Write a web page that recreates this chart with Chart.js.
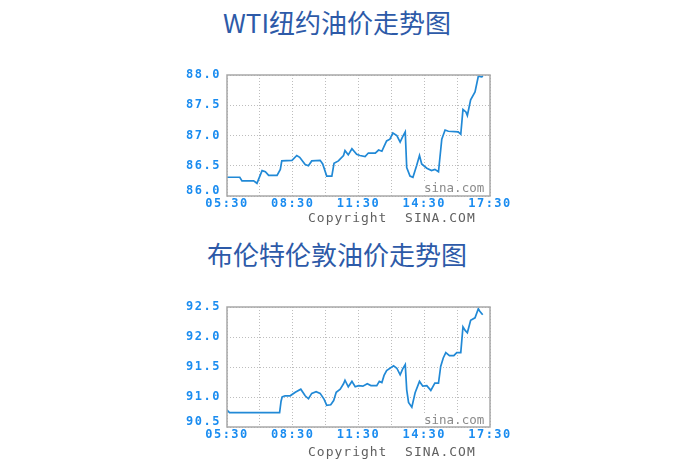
<!DOCTYPE html>
<html>
<head>
<meta charset="utf-8">
<script src="https://cdn.jsdelivr.net/npm/chart.js@4/dist/chart.umd.min.js"></script>
<style>
  html, body { margin: 0; padding: 0; background: #fff; }
  #page { position: relative; width: 685px; height: 465px; overflow: hidden; }
  .title { position: absolute; left: 0; width: 674px; text-align: center; font-family: "Noto Sans CJK SC", "Noto Sans", sans-serif; font-size: 26px; line-height: 30px; color: #2d5aa8; }
  .copy { position: absolute; left: 308px; font-family: "DejaVu Sans Mono", monospace; font-size: 13px; letter-spacing: 1px; line-height: 14px; color: #606060; white-space: pre; }
  .mark { position: absolute; left: 423px; font-family: "DejaVu Sans Mono", monospace; font-size: 12.5px; line-height: 12px; color: #8a8a8a; background: #fff; padding: 0 1px; }
  canvas { position: absolute; left: 0; }
</style>
</head>
<body>
<div id="page">
  <div class="title" style="top:7px">WTI纽约油价走势图</div>
  <canvas id="wtiChart" width="685" height="232" style="top:0"></canvas>
  <div class="mark" style="top:182px">sina.com</div>
  <div class="copy" style="top:211px">Copyright  SINA.COM</div>

  <div class="title" style="top:239px">布伦特伦敦油价走势图</div>
  <canvas id="brentChart" width="685" height="233" style="top:232px"></canvas>
  <div class="mark" style="top:414px">sina.com</div>
  <div class="copy" style="top:445px">Copyright  SINA.COM</div>
</div>
<script>
const timeLabels = ['05:30', '08:30', '11:30', '14:30', '17:30'];

const wtiTimes = ['05:30','06:05','06:11','06:43','06:52','07:06','07:15','07:24','07:47','07:56',
    '08:00','08:28','08:41','08:49','09:04','09:13','09:22','09:45','09:52','10:03',
    '10:17','10:23','10:35','10:49','10:53','11:02','11:12','11:25','11:34','11:48',
    '11:57','12:16','12:25','12:34','12:40','12:47','12:56','13:04','13:15','13:24',
    '13:31','13:38','13:42','13:51','13:59','14:09','14:17','14:23','14:37','14:50',
    '14:59','15:09','15:13','15:18','15:27','15:36','16:03','16:10','16:16','16:24',
    '16:28','16:37','16:49','16:58','17:07','17:11'];
const wtiPrices = [86.31,86.31,86.25,86.25,86.21,86.42,86.40,86.34,86.34,86.44,
    86.58,86.59,86.67,86.64,86.52,86.50,86.58,86.59,86.53,86.33,
    86.33,86.54,86.58,86.67,86.75,86.68,86.78,86.69,86.67,86.65,
    86.71,86.71,86.76,86.74,86.82,86.91,86.94,87.04,87.00,86.89,
    86.98,87.06,86.47,86.33,86.31,86.50,86.67,86.53,86.46,86.42,
    86.44,86.40,86.64,86.94,87.09,87.07,87.06,87.02,87.43,87.39,
    87.33,87.59,87.72,87.98,87.97,87.98];
const wtiRange = [86.0, 88.0];

const brentTimes = ['05:30','05:37','07:54','07:58','08:01','08:09','08:23','08:37','08:52','09:04',
    '09:13','09:22','09:34','09:45','09:56','10:03','10:14','10:22','10:29','10:40',
    '10:49','10:53','11:02','11:12','11:21','11:30','11:42','11:54','12:04','12:20',
    '12:27','12:34','12:40','12:47','13:06','13:15','13:24','13:31','13:38','13:42',
    '13:47','13:56','14:05','14:17','14:26','14:37','14:48','14:59','15:09','15:15',
    '15:22','15:29','15:39','15:51','15:59','16:10','16:16','16:22','16:28','16:37',
    '16:49','16:58','17:02','17:10'];
const brentPrices = [90.78,90.74,90.74,90.93,91.00,91.02,91.02,91.08,91.13,91.02,
    90.97,91.06,91.09,91.06,90.96,90.86,90.87,90.94,91.08,91.13,
    91.22,91.28,91.17,91.26,91.17,91.19,91.18,91.22,91.19,91.19,
    91.26,91.24,91.36,91.44,91.52,91.48,91.37,91.47,91.54,91.12,
    90.91,90.83,91.07,91.26,91.18,91.19,91.11,91.23,91.23,91.51,
    91.65,91.74,91.69,91.69,91.74,91.74,92.17,92.11,92.07,92.28,
    92.32,92.47,92.43,92.37];
const brentRange = [90.5, 92.5];

function toMin(s) {
    const [h, m] = s.split(':').map(Number);
    return h * 60 + m - 330;
}

const axisFont = { family: 'DejaVu Sans Mono', size: 12, weight: 'bold', lineHeight: 0.85 };
const tickColor = '#1a8cf0';

// frame round the plot + wider letters for the axis text
const framePlugin = {
    id: 'frame',
    beforeDraw(chart) {
        chart.ctx.letterSpacing = '1.5px';
    },
    afterDraw(chart) {
        const a = chart.chartArea;
        const ctx = chart.ctx;
        ctx.save();
        ctx.strokeStyle = '#a8a8a8';
        ctx.lineWidth = 1.5;
        ctx.strokeRect(a.left, a.top, a.right - a.left, a.bottom - a.top);
        ctx.restore();
    }
};

function makeChart(id, times, prices, range, bottomH) {
    const ctx = document.getElementById(id).getContext('2d');
    const points = times.map((t, i) => ({ x: toMin(t), y: prices[i] }));
    const yTicks = [];
    for (let v = range[0]; v <= range[1] + 1e-9; v += 0.5) yTicks.push({ value: v });
    return new Chart(ctx, {
        type: 'line',
        data: {
            datasets: [{
                data: points,
                borderColor: '#2189d6',
                borderWidth: 1.7,
                pointRadius: 0,
                tension: 0,
                fill: false
            }]
        },
        options: {
            responsive: false,
            animation: false,
            layout: { padding: { left: 0, right: 195, top: 75, bottom: 0 } },
            plugins: {
                legend: { display: false },
                tooltip: { enabled: false },
                title: { display: false }
            },
            scales: {
                x: {
                    type: 'linear',
                    min: 0,
                    max: 720,
                    afterBuildTicks: axis => {
                        axis.ticks = [0, 90, 180, 270, 360, 450, 540, 630, 720].map(v => ({ value: v }));
                    },
                    afterFit: axis => { axis.height = bottomH; },
                    ticks: {
                        autoSkip: false,
                        maxRotation: 0,
                        padding: 3,
                        color: tickColor,
                        font: axisFont,
                        callback: v => (v % 180 === 0 ? timeLabels[v / 180] : '')
                    },
                    grid: { color: '#bdbdbd', lineWidth: 1, drawTicks: false },
                    border: { display: false, dash: [1, 2] }
                },
                y: {
                    min: range[0],
                    max: range[1],
                    afterBuildTicks: axis => { axis.ticks = yTicks.slice(); },
                    afterFit: axis => { axis.width = 227; },
                    ticks: {
                        padding: 6,
                        color: tickColor,
                        font: axisFont,
                        // lowest label sits a little higher, clear of the time labels
                        callback: v => (v === range[0] ? [Number(v).toFixed(1), ''] : Number(v).toFixed(1))
                    },
                    grid: { color: '#bdbdbd', lineWidth: 1, drawTicks: false },
                    border: { display: false, dash: [1, 2] }
                }
            }
        },
        plugins: [framePlugin]
    });
}

makeChart('wtiChart', wtiTimes, wtiPrices, wtiRange, 36);
makeChart('brentChart', brentTimes, brentPrices, brentRange, 38);
</script>
</body>
</html>
